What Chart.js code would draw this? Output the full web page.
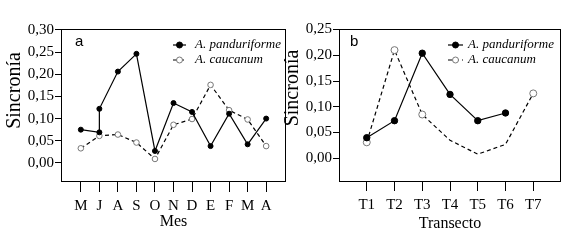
<!DOCTYPE html>
<html>
<head>
<meta charset="utf-8">
<script src="https://cdn.jsdelivr.net/npm/chart.js@4.4.1/dist/chart.umd.min.js"></script>
<style>
  html, body { margin: 0; padding: 0; background: #fff; }
  #wrap { position: relative; width: 566px; height: 250px; }
  #wrap canvas { position: absolute; left: 0; top: 0; }
</style>
</head>
<body>
<div id="wrap">
  <canvas id="chartMes" width="566" height="250"></canvas>
  <canvas id="chartTransecto" width="566" height="250"></canvas>
</div>
<script>
// panel a: sincronía por mes
const meses = ["M", "J", "A", "S", "O", "N", "D", "E", "F", "M", "A"];
// A. panduriforme tiene dos valores en J (salto vertical)
const mesPandIdx = [0, 1, 1, 2, 3, 4, 5, 6, 7, 8, 9, 10];
const mesPand = [0.075, 0.069, 0.122, 0.206, 0.246, 0.027, 0.135, 0.115, 0.038, 0.111, 0.042, 0.100];
const mesCauc = [0.033, 0.061, 0.064, 0.046, 0.009, 0.086, 0.099, 0.176, 0.119, 0.098, 0.038];

// panel b: sincronía por transecto
const transectos = ["T1", "T2", "T3", "T4", "T5", "T6", "T7"];
const transPand = [0.040, 0.073, 0.204, 0.124, 0.073, 0.088, null];
const transCauc = [0.031, 0.210, 0.085, 0.035, 0.008, 0.027, 0.126];
const transCaucMarca = [true, true, true, false, false, false, true];

const especies = ["A. panduriforme", "A. caucanum"];
const ticksMes = [0, 0.05, 0.10, 0.15, 0.20, 0.25, 0.30];
const ticksTransecto = [0, 0.05, 0.10, 0.15, 0.20, 0.25];

const SERIF = "'Liberation Serif', 'Times New Roman', serif";
const coma = v => v.toFixed(2).replace(".", ",");

// marco completo alrededor del área de datos
const marco = {
  id: "marco",
  beforeDatasetsDraw(chart) {
    const { ctx, chartArea: a } = chart;
    ctx.save();
    ctx.strokeStyle = "#000";
    ctx.lineWidth = 1;
    ctx.strokeRect(Math.round(a.left) + 0.5, Math.round(a.top) + 0.5,
      Math.round(a.right - a.left) - 1, Math.round(a.bottom - a.top) - 1);
    ctx.restore();
  }
};

// leyenda y letra del panel dentro del área de datos
const leyendaPanel = {
  id: "leyendaPanel",
  afterDraw(chart, args, opts) {
    const { ctx } = chart;
    ctx.save();
    ctx.fillStyle = "#000";
    ctx.font = "15px 'Liberation Sans', Arial, sans-serif";
    ctx.textBaseline = "middle";
    ctx.fillText(opts.letra, opts.letraX, opts.letraY);

    chart.data.datasets.forEach((ds, i) => {
      const y = opts.y + i * 15;
      ctx.strokeStyle = "#000";
      ctx.lineWidth = 1.2;
      ctx.setLineDash(ds.borderDash || []);
      ctx.beginPath();
      ctx.moveTo(opts.x, y);
      ctx.lineTo(opts.x + opts.largo, y);
      ctx.stroke();
      ctx.setLineDash([]);
      ctx.beginPath();
      ctx.arc(opts.x + opts.largo / 2, y, 3, 0, Math.PI * 2);
      ctx.fillStyle = ds.pointBackgroundColor;
      ctx.fill();
      ctx.strokeStyle = ds.pointBorderColor;
      ctx.lineWidth = 1;
      ctx.stroke();
      ctx.fillStyle = "#000";
      ctx.font = "italic 13px " + SERIF;
      ctx.fillText(ds.label, opts.x + opts.largo + opts.hueco, y);
    });
    ctx.restore();
  }
};

function opciones(cfg) {
  return {
    responsive: false,
    animation: false,
    devicePixelRatio: 1,
    layout: { padding: cfg.padding },
    plugins: {
      legend: { display: false },
      tooltip: { enabled: false },
      leyendaPanel: cfg.leyenda
    },
    scales: {
      x: {
        type: "linear",
        min: cfg.xMin,
        max: cfg.xMax,
        afterBuildTicks: s => { s.ticks = cfg.etiquetas.map((_, i) => ({ value: i })); },
        afterFit: s => { s.height = 68; },
        ticks: {
          autoSkip: false,
          maxRotation: 0,
          color: "#000",
          padding: cfg.xPad,
          font: { family: SERIF, size: 15 },
          callback: v => cfg.etiquetas[v]
        },
        grid: { drawOnChartArea: false, drawTicks: true, tickLength: cfg.xTick, color: "#000" },
        border: { display: false },
        title: {
          display: true,
          text: cfg.tituloX,
          color: "#000",
          font: { family: SERIF, size: 16, lineHeight: 1 },
          padding: { top: 0, bottom: cfg.tituloXPad }
        }
      },
      y: {
        min: cfg.yMin,
        max: cfg.yMax,
        afterBuildTicks: s => { s.ticks = cfg.yTicks.map(v => ({ value: v })); },
        afterFit: s => { s.width = cfg.anchoY; },
        ticks: {
          color: "#000",
          padding: 1,
          font: { family: SERIF, size: 15 },
          callback: v => coma(v)
        },
        grid: { drawOnChartArea: false, drawTicks: true, tickLength: 6, color: "#000" },
        border: { display: false },
        title: {
          display: true,
          text: cfg.tituloY,
          color: "#000",
          font: { family: SERIF, size: 20, lineHeight: 1 },
          padding: { top: 5, bottom: 0 }
        }
      }
    }
  };
}

function serieLlena(label, data, radio) {
  return {
    label, data,
    borderColor: "#000", borderWidth: 1.2,
    pointRadius: radio, pointBackgroundColor: "#000", pointBorderColor: "#000", pointBorderWidth: 1,
    tension: 0, spanGaps: false
  };
}
function serieVacia(label, data, radio) {
  return {
    label, data,
    borderColor: "#000", borderWidth: 1.2, borderDash: [4, 3],
    pointRadius: radio, pointBackgroundColor: "#fff", pointBorderColor: "#777", pointBorderWidth: 1,
    tension: 0
  };
}

Chart.register(marco, leyendaPanel);

new Chart(document.getElementById("chartMes"), {
  type: "line",
  data: {
    datasets: [
      serieLlena(especies[0], mesPand.map((v, i) => ({ x: mesPandIdx[i], y: v })), 2.5),
      serieVacia(especies[1], mesCauc.map((v, i) => ({ x: i, y: v })), 2.8)
    ]
  },
  options: opciones({
    padding: { left: 0, top: 29, right: 280, bottom: 0 },
    anchoY: 61,
    etiquetas: meses, xMin: -1.07, xMax: 11.07,
    xTick: 10, xPad: 5, tituloXPad: 20,
    yMin: -0.043, yMax: 0.302, yTicks: ticksMes,
    tituloX: "Mes", tituloY: "      Sincronía",
    leyenda: { letra: "a", letraX: 75, letraY: 42, x: 173, y: 45, largo: 13, hueco: 9 }
  })
});

new Chart(document.getElementById("chartTransecto"), {
  type: "line",
  data: {
    datasets: [
      serieLlena(especies[0], transPand.map((v, i) => ({ x: i, y: v })), 3.2),
      serieVacia(especies[1], transCauc.map((v, i) => ({ x: i, y: v })),
        transCaucMarca.map(m => (m ? 3.5 : 0)))
    ]
  },
  options: opciones({
    padding: { left: 278, top: 29, right: 4, bottom: 0 },
    anchoY: 61,
    etiquetas: transectos, xMin: -1, xMax: 7,
    xTick: 9, xPad: 5, tituloXPad: 18,
    yMin: -0.046, yMax: 0.251, yTicks: ticksTransecto,
    tituloX: "Transecto", tituloY: "       Sincronía",
    leyenda: { letra: "b", letraX: 350, letraY: 42, x: 448, y: 45, largo: 15, hueco: 5 }
  })
});
</script>
</body>
</html>
